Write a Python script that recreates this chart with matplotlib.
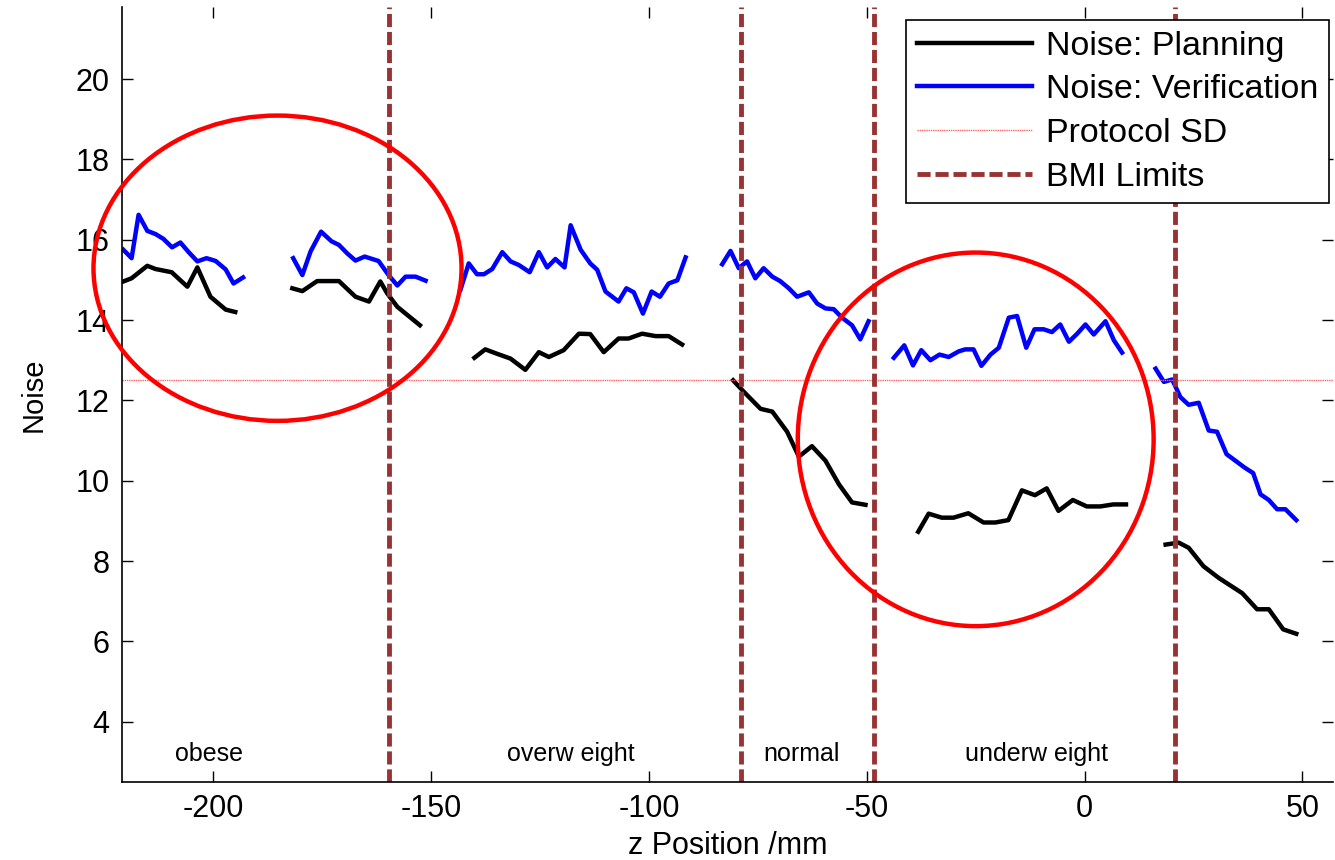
import numpy as np
import matplotlib

matplotlib.use("Agg")
import matplotlib.pyplot as plt
from matplotlib.patches import Ellipse

nan = np.nan

# planning noise (black), segments separated by NaN
planning_z = [
    -220.7, -218.8, -215.2, -213.3, -209.6, -206.0, -203.7, -200.7, -197.2, -195.0, nan,
    -181.9, -179.6, -176.2, -171.2, -167.4, -164.3, -161.7, -160.1, -157.8, -152.6, nan,
    -140.1, -137.6, -134.9, -131.8, -128.4, -125.3, -123.0, -119.6, -116.1, -113.5,
    -110.4, -107.0, -104.7, -101.6, -98.5, -95.5, -92.4, nan,
    -80.7, -78.3, -74.4, -71.7, -68.3, -65.6, -62.6, -59.5, -56.4, -53.4, -50.3, nan,
    -38.2, -35.8, -32.8, -30.1, -26.7, -23.2, -20.5, -17.5, -14.4, -11.4, -8.7, -6.0,
    -2.7, 0.5, 3.6, 6.6, 9.5, nan,
    18.6, 21.6, 23.9, 27.3, 30.8, 36.2, 39.6, 42.3, 45.6, 48.6,
]
planning_noise = [
    14.96, 15.04, 15.35, 15.27, 15.19, 14.83, 15.31, 14.58, 14.26, 14.20, nan,
    14.79, 14.72, 14.97, 14.97, 14.58, 14.46, 14.96, 14.66, 14.33, 13.87, nan,
    13.06, 13.27, 13.16, 13.04, 12.76, 13.20, 13.08, 13.25, 13.66, 13.65,
    13.20, 13.54, 13.54, 13.66, 13.60, 13.60, 13.39, nan,
    12.50, 12.22, 11.79, 11.72, 11.22, 10.60, 10.86, 10.50, 9.91, 9.46, 9.40, nan,
    8.73, 9.18, 9.08, 9.08, 9.19, 8.96, 8.96, 9.02, 9.76, 9.64, 9.81, 9.25,
    9.52, 9.36, 9.36, 9.41, 9.41, nan,
    8.41, 8.46, 8.33, 7.87, 7.58, 7.20, 6.80, 6.80, 6.30, 6.19,
]

# verification noise (blue)
verification_z = [
    -220.7, -218.8, -217.2, -215.2, -213.3, -211.5, -209.5, -207.6, -205.7, -203.7,
    -201.6, -199.5, -197.2, -195.4, -193.2, nan,
    -181.7, -179.6, -177.7, -175.3, -172.9, -171.2, -169.3, -167.4, -165.3, -162.1,
    -159.8, -157.8, -155.9, -153.6, -151.3, nan,
    -143.3, -141.4, -139.5, -137.9, -136.0, -133.7, -131.8, -129.9, -127.4, -125.3,
    -123.4, -121.5, -119.4, -118.0, -115.7, -113.5, -111.9, -110.0, -107.0, -105.2,
    -103.5, -101.4, -99.4, -97.5, -95.5, -93.5, -91.6, nan,
    -83.2, -81.3, -79.4, -77.5, -75.6, -73.7, -71.7, -69.9, -67.9, -66.0,
    -63.3, -61.4, -59.5, -57.6, -55.7, -53.4, -51.5, -49.6, nan,
    -43.8, -41.4, -39.4, -37.5, -35.4, -33.3, -31.2, -28.9, -27.4, -25.5,
    -23.7, -21.6, -19.7, -17.4, -15.5, -13.4, -11.5, -9.4, -7.5, -5.6,
    -3.6, -1.7, 0.2, 2.1, 4.8, 6.7, 8.6, nan,
    16.3, 18.2, 20.1, 22.0, 23.9, 26.2, 28.5, 30.4, 32.6, 34.6,
    36.7, 38.7, 40.4, 42.3, 44.2, 46.1, 48.6,
]
verification_noise = [
    15.75, 15.54, 16.62, 16.22, 16.14, 16.02, 15.81, 15.93, 15.69, 15.46,
    15.54, 15.47, 15.26, 14.91, 15.06, nan,
    15.54, 15.12, 15.71, 16.20, 15.96, 15.87, 15.66, 15.48, 15.58, 15.47,
    15.12, 14.86, 15.08, 15.08, 14.98, nan,
    14.75, 15.41, 15.14, 15.14, 15.27, 15.69, 15.46, 15.37, 15.19, 15.69,
    15.31, 15.52, 15.31, 16.36, 15.75, 15.41, 15.25, 14.71, 14.46, 14.79,
    14.69, 14.16, 14.71, 14.58, 14.91, 14.99, 15.56, nan,
    15.39, 15.72, 15.29, 15.46, 15.04, 15.29, 15.08, 14.97, 14.79, 14.58,
    14.69, 14.41, 14.29, 14.27, 14.06, 13.87, 13.52, 13.97, nan,
    13.06, 13.37, 12.87, 13.25, 13.00, 13.14, 13.08, 13.22, 13.27, 13.27,
    12.86, 13.14, 13.31, 14.06, 14.10, 13.31, 13.77, 13.77, 13.70, 13.89,
    13.46, 13.66, 13.89, 13.64, 13.97, 13.50, 13.19, nan,
    12.79, 12.46, 12.52, 12.08, 11.89, 11.94, 11.25, 11.22, 10.66, 10.50,
    10.33, 10.19, 9.66, 9.52, 9.29, 9.29, 9.02,
]

protocol_sd = 12.5
bmi_limits = [-159.8, -78.8, -48.3, 20.8]

region_labels = ["obese", "overw eight", "normal", "underw eight"]
region_z = [-201, -118, -65, -11]
region_y = 3.2

# highlighted areas: (centre z, centre noise, width, height)
circle_centres = [(-185.3, 15.29), (-25.0, 11.03)]
circle_sizes = [(84.5, 7.6), (81.7, 9.3)]

BROWN = "#993333"
FONT = ["Liberation Sans", "DejaVu Sans"]

plt.rcParams.update({"font.family": FONT, "font.size": 21, "axes.unicode_minus": False})

fig = plt.figure(figsize=(13.35, 8.6), dpi=100)
ax = fig.add_axes([0.0914, 0.0907, 0.907, 0.9015])

ax.plot(planning_z, planning_noise, color="black", lw=3.2, label="Noise: Planning")
ax.plot(verification_z, verification_noise, color="#0000FF", lw=3.2, label="Noise: Verification")
ax.axhline(protocol_sd, color="#FF6666", lw=1.0, ls=(0, (1, 0.6)), label="Protocol SD")
for i, z in enumerate(bmi_limits):
    ax.axvline(z, color=BROWN, lw=3.5, ls=(0, (2.7, 1.0)),
               label="BMI Limits" if i == 0 else None)

for (cx, cy), (w, h) in zip(circle_centres, circle_sizes):
    ax.add_patch(Ellipse((cx, cy), w, h, fill=False, edgecolor="#FF0000", lw=3.2,
                         zorder=4, clip_on=False))

for label, z in zip(region_labels, region_z):
    ax.text(z, region_y, label, ha="center", va="center", fontsize=18)

ax.set_xlim(-221, 57)
ax.set_ylim(2.5, 21.8)
ax.set_xticks(range(-200, 51, 50))
ax.set_yticks(range(4, 21, 2))
ax.tick_params(direction="in", length=8, width=1, labelsize=22,
               top=True, right=True, pad=9)
for side in ("top", "right"):
    ax.spines[side].set_visible(False)
ax.spines["left"].set_linewidth(1.2)
ax.spines["bottom"].set_linewidth(1.2)

ax.set_xlabel("z Position /mm", fontsize=22, labelpad=5)
ax.set_ylabel("Noise", fontsize=21, labelpad=20)

leg = ax.legend(loc="upper right", bbox_to_anchor=(0.997, 0.983), fontsize=24.5,
                handlelength=3.4, handletextpad=0.4, labelspacing=0.37,
                borderpad=0.32, borderaxespad=0, fancybox=False, framealpha=1,
                edgecolor="black")
leg.get_frame().set_linewidth(1.2)

fig.savefig("out.png", dpi=100)
